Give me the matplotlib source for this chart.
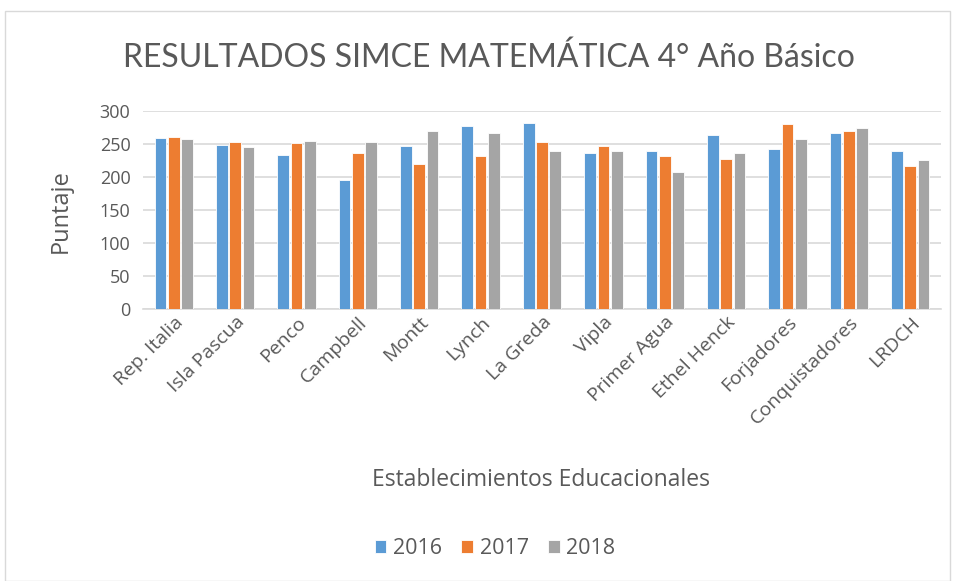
import matplotlib
matplotlib.use("Agg")
import matplotlib.pyplot as plt
from matplotlib.patches import Rectangle
import numpy as np

plt.rcParams['font.family'] = ['Open Sans', 'DejaVu Sans']

categories = ["Rep. Italia", "Isla Pascua", "Penco", "Campbell", "Montt", "Lynch",
              "La Greda", "Vipla", "Primer Agua", "Ethel Henck", "Forjadores",
              "Conquistadores", "LRDCH"]
v2016 = [259, 249, 234, 195, 247, 278, 282, 237, 240, 264, 243, 266, 240]
v2017 = [261, 253, 251, 237, 220, 232, 253, 247, 232, 228, 280, 270, 216]
v2018 = [257, 246, 255, 253, 270, 266, 240, 240, 208, 236, 257, 274, 226]
series = [("2016", v2016, "#5B9BD5"), ("2017", v2017, "#ED7D31"), ("2018", v2018, "#A5A5A5")]
yticks = [0, 50, 100, 150, 200, 250, 300]

txt = "#595959"
fig = plt.figure(figsize=(9.57, 5.81), dpi=100)
fig.patches.append(Rectangle((5/957, 0), 945/957, 1 - 11/581, transform=fig.transFigure,
                             fill=False, edgecolor="#D9D9D9", lw=1))
ax = fig.add_axes([143/957, 1 - 309/581, (941 - 143)/957, (309 - 111)/581])

x = np.arange(len(categories))
offs = [-0.217, 0, 0.217]
for (lab, vals, col), o in zip(series, offs):
    ax.bar(x + o, vals, width=0.19, color=col, edgecolor="white", linewidth=0.6, label=lab, zorder=3)

ax.set_xlim(-0.5, len(categories) - 0.5)
ax.set_ylim(0, 300)
ax.set_yticks(yticks)
ax.yaxis.grid(True, color="#D9D9D9", lw=1.2, zorder=0)
for s in ["top", "right", "left"]:
    ax.spines[s].set_visible(False)
ax.spines["bottom"].set_color("#D9D9D9")
ax.spines["bottom"].set_linewidth(1.2)
ax.tick_params(length=0, colors=txt)
ax.tick_params(axis="y", pad=9, labelsize=13)
ax.tick_params(axis="x", pad=3)
ax.set_xticks(x)
ax.set_xticklabels(categories, rotation=45, ha="right", rotation_mode="anchor", fontsize=14, color=txt)
for t in ax.get_yticklabels():
    t.set_color(txt)

fig.text(489/957, 1 - 58/581, "RESULTADOS SIMCE MATEMÁTICA 4° Año Básico", ha="center", va="center",
         fontsize=23, color=txt, family=["Lato", "DejaVu Sans"])
fig.text(61/957, 1 - 211/581, "Puntaje", rotation=90, ha="center", va="center", fontsize=17, color=txt)
fig.text(541/957, 1 - 480/581, "Establecimientos Educacionales", ha="center", va="center", fontsize=16.5, color=txt)

leg = fig.legend(loc="center", bbox_to_anchor=(495/957, 1 - 549/581), ncol=3, frameon=False,
                 fontsize=15.5, handlelength=0.55, handleheight=0.55, columnspacing=0.9, handletextpad=0.3)
for t in leg.get_texts():
    t.set_color(txt)

fig.savefig("out.png", dpi=100)
